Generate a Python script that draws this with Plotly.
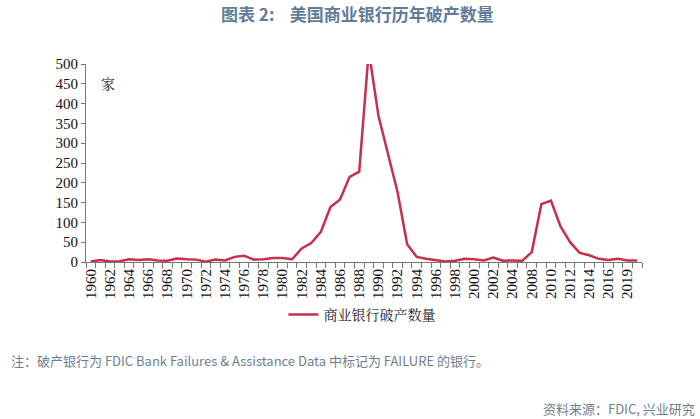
import plotly.graph_objects as go

years = [str(y) for y in range(1960, 2005)] + [str(y) for y in range(2007, 2018)] + ["2019", "2020"]
failures = [1, 5, 1, 2, 7, 5, 7, 4, 3, 9,
            7, 6, 1, 6, 4, 13, 16, 6, 7, 10,
            10, 7, 34, 48, 76, 139, 158, 215, 228, 534,
            370, 270, 177, 45, 13, 8, 5, 1, 3, 8,
            7, 4, 11, 3, 4,
            3, 25, 146, 155, 90, 50, 23, 17, 8, 5, 8,
            4, 4]
tick_text = [y if i % 2 == 0 else "" for i, y in enumerate(years)]
series_name = "商业银行破产数量"

title_text = "图表 2:\u00a0\u00a0\u00a0 美国商业银行历年破产数量"
note_text = "注：破产银行为 FDIC Bank Failures &amp; Assistance Data 中标记为 FAILURE 的银行。"
source_text = "资料来源：FDIC, 兴业研究"
unit_text = "家"

serif = "Liberation Serif, Times New Roman, serif"
cjk_serif = "Noto Serif CJK SC, Noto Sans CJK SC"
cjk = "Noto Sans CJK SC"

L, R, T, B = 85.5, 58.3, 64, 157
W, H = 700, 419
pw = W - L - R
ph = H - T - B


def px(x, y):
    return (x - L) / pw, (H - B - y) / ph


fig = go.Figure()
fig.add_trace(go.Scatter(
    x=years, y=failures, mode="lines", name=series_name,
    line=dict(color="#c7304b", width=2.5),
))

anns = []
for text, x, y, anchor, font in [
    (f"<b>{title_text}</b>", 357, 14, "center", dict(family=cjk, size=17, color="#5f7c9a")),
    (unit_text, 107.5, 82.5, "center", dict(family=cjk_serif, size=14, color="#111")),
    (note_text, 8, 360, "left", dict(family=cjk, size=13, color="#6e7f90")),
    (source_text, 697, 408, "right", dict(family=cjk, size=13, color="#6e7f90")),
]:
    ax, ay = px(x, y)
    anns.append(dict(text=text, x=ax, y=ay, xref="paper", yref="paper",
                     xanchor=anchor, yanchor="middle", showarrow=False, font=font))

fig.update_layout(
    width=W, height=H,
    margin=dict(l=L, r=R, t=T, b=B),
    paper_bgcolor="white", plot_bgcolor="white",
    showlegend=True,
    legend=dict(
        orientation="h", x=0.355, y=px(0, 315)[1], xanchor="left", yanchor="middle",
        font=dict(family=cjk_serif, size=14, color="#222"),
        bgcolor="rgba(0,0,0,0)",
    ),
    xaxis=dict(
        type="category", range=[-0.5, len(years) - 0.5],
        tickmode="array", tickvals=years, ticktext=tick_text,
        tickson="boundaries", ticks="outside", ticklen=5, tickcolor="#777",
        tickangle=-90, showline=True, linecolor="#777", linewidth=1,
        showgrid=False, zeroline=False,
        tickfont=dict(family=serif, size=15, color="#111"),
    ),
    yaxis=dict(
        range=[0, 500], dtick=50, ticks="outside", ticklen=4, tickcolor="#777",
        showline=True, linecolor="#777", linewidth=1,
        showgrid=False, zeroline=False,
        tickfont=dict(family=serif, size=15, color="#111"),
    ),
    annotations=anns,
)

fig.write_html("out.html")
